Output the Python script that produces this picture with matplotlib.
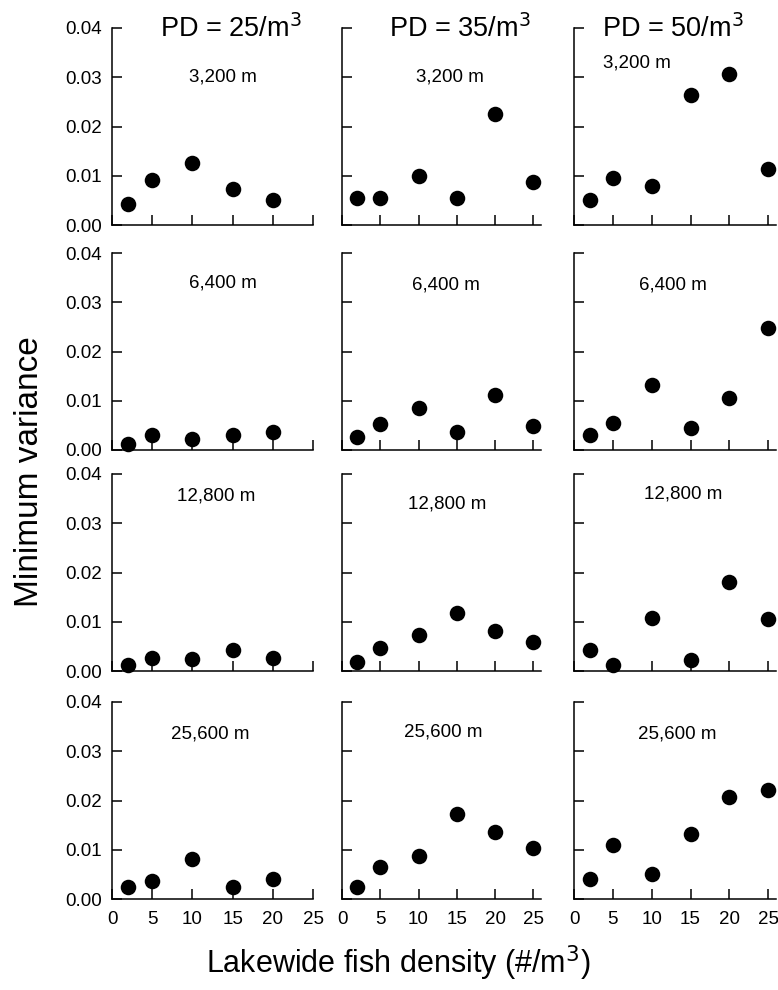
import matplotlib
matplotlib.use("Agg")
import matplotlib.pyplot as plt

plt.rcParams['font.family'] = ['Liberation Sans', 'DejaVu Sans']

# datos
pd_labels = ["PD = 25/m$^3$", "PD = 35/m$^3$", "PD = 50/m$^3$"]
scale_labels = ["3,200 m", "6,400 m", "12,800 m", "25,600 m"]

dens_pd25 = [2, 5, 10, 15, 20]
dens_pd35 = [2, 5, 10, 15, 20, 25]
dens_pd50 = [2, 5, 10, 15, 20, 25]

var_3200_pd25 = [0.0043, 0.0091, 0.0125, 0.0073, 0.0050]
var_3200_pd35 = [0.0054, 0.0054, 0.0099, 0.0054, 0.0225, 0.0088]
var_3200_pd50 = [0.0051, 0.0095, 0.0080, 0.0263, 0.0306, 0.0113]

var_6400_pd25 = [0.0012, 0.0030, 0.0022, 0.0030, 0.0037]
var_6400_pd35 = [0.0026, 0.0052, 0.0085, 0.0037, 0.0112, 0.0049]
var_6400_pd50 = [0.0030, 0.0054, 0.0131, 0.0044, 0.0105, 0.0247]

var_12800_pd25 = [0.0013, 0.0026, 0.0024, 0.0042, 0.0026]
var_12800_pd35 = [0.0019, 0.0047, 0.0073, 0.0118, 0.0081, 0.0058]
var_12800_pd50 = [0.0042, 0.0012, 0.0107, 0.0023, 0.0180, 0.0106]

var_25600_pd25 = [0.0025, 0.0036, 0.0081, 0.0024, 0.0040]
var_25600_pd35 = [0.0024, 0.0064, 0.0087, 0.0173, 0.0137, 0.0103]
var_25600_pd50 = [0.0040, 0.0110, 0.0050, 0.0132, 0.0208, 0.0222]

densidades = [dens_pd25, dens_pd35, dens_pd50]
varianzas = [
    [var_3200_pd25, var_3200_pd35, var_3200_pd50],
    [var_6400_pd25, var_6400_pd35, var_6400_pd50],
    [var_12800_pd25, var_12800_pd35, var_12800_pd50],
    [var_25600_pd25, var_25600_pd35, var_25600_pd50],
]

# disposicion de los paneles (pixeles de la figura)
W, H = 778, 990
col_left = [112, 342, 574]
col_width = [201, 199, 202]
row_bottom = [225, 450, 671, 899]
row_height = 197
xmax = [25, 26, 26]

# posicion de la etiqueta de escala dentro de cada panel
label_pos = [
    [(0.55, 0.75), (0.54, 0.75), (0.31, 0.82)],
    [(0.55, 0.85), (0.52, 0.84), (0.49, 0.84)],
    [(0.52, 0.89), (0.53, 0.85), (0.54, 0.90)],
    [(0.49, 0.84), (0.51, 0.85), (0.51, 0.84)],
]
title_x = [0.59, 0.59, 0.49]

fig = plt.figure(figsize=(W / 100, H / 100), dpi=100)

for r in range(4):
    for c in range(3):
        ax = fig.add_axes([col_left[c] / W, 1 - row_bottom[r] / H,
                           col_width[c] / W, row_height / H])
        ax.scatter(densidades[c], varianzas[r][c], s=125, color='black',
                   zorder=3, clip_on=False, linewidths=0)
        ax.set_xlim(0, xmax[c])
        ax.set_ylim(0, 0.04)
        ax.set_xticks([0, 5, 10, 15, 20, 25])
        ax.set_yticks([0, 0.01, 0.02, 0.03, 0.04])
        for lado in ['top', 'right']:
            ax.spines[lado].set_visible(False)
        for lado in ['left', 'bottom']:
            ax.spines[lado].set_linewidth(1.1)
        ax.tick_params(direction='in', length=7, width=1.1, labelsize=13.5)
        ax.tick_params(axis='x', pad=9)
        ax.tick_params(axis='y', pad=7)
        if c == 0:
            ax.set_yticklabels(['0.00', '0.01', '0.02', '0.03', '0.04'])
        else:
            ax.set_yticklabels([])
        if r < 3:
            ax.set_xticklabels([])
        lx, ly = label_pos[r][c]
        ax.text(lx, ly, scale_labels[r], transform=ax.transAxes,
                ha='center', va='center', fontsize=13.5)
        if r == 0:
            ax.text(title_x[c], 0.955, pd_labels[c], transform=ax.transAxes,
                    ha='center', va='baseline', fontsize=19.5)

fig.text(30 / W, 1 - 472 / H, "Minimum variance", rotation=90,
         ha='center', va='center', fontsize=24)
fig.text(398 / W, 1 - 963 / H, "Lakewide fish density (#/m$^3$)",
         ha='center', va='center', fontsize=22)

plt.savefig("out.png", dpi=100)
